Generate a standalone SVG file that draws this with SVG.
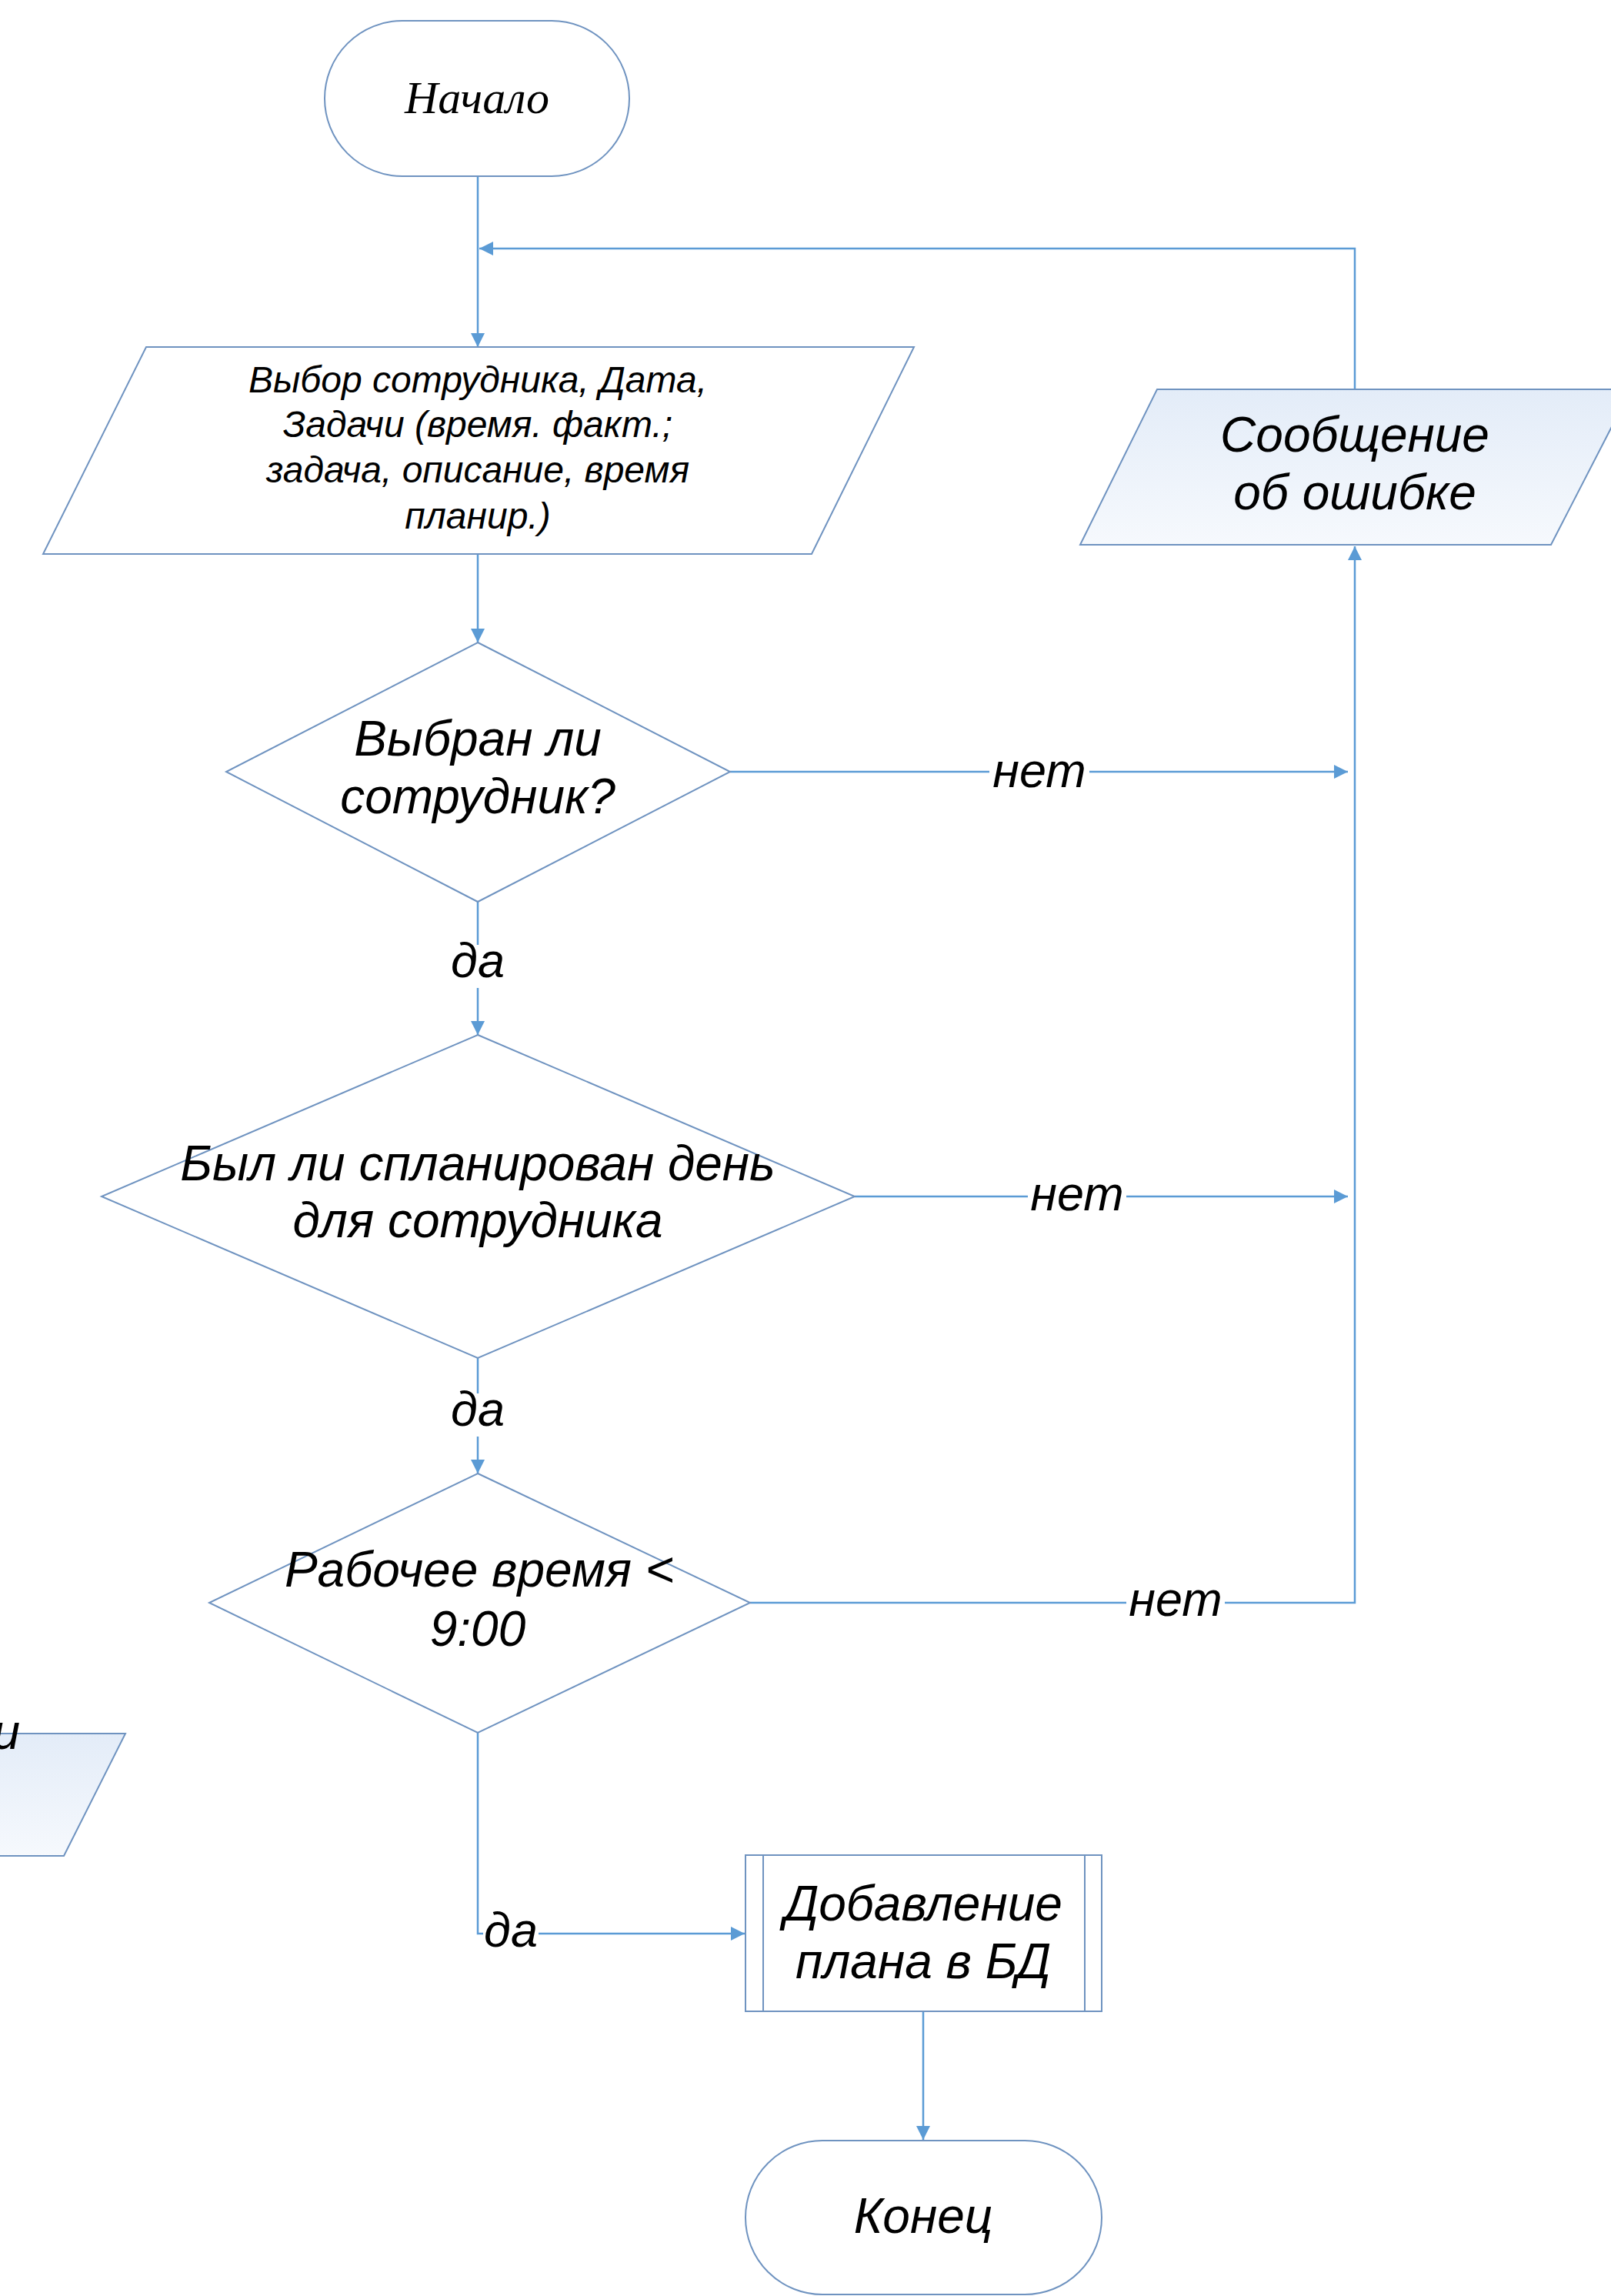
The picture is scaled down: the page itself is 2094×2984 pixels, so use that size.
<svg xmlns="http://www.w3.org/2000/svg" width="2094" height="2984" viewBox="0 0 2094 2984">
  <style>
    .node { fill: #ffffff; stroke: #6f93c0; stroke-width: 2; }
    .io { fill: url(#ioFill); stroke: #6f93c0; stroke-width: 2; }
    .conn { fill: none; stroke: #5b9bd5; stroke-width: 2.5; }
    .t { font-family: "Liberation Sans", Arial, sans-serif; font-style: italic; fill: #000; text-anchor: middle; }
    .serif { font-family: "Liberation Serif", "Times New Roman", serif; font-style: italic; fill: #000; text-anchor: middle; }
    .big { font-size: 64px; }
    .small { font-size: 48px; }
    .lbl { font-size: 63px; }
  </style>
  <defs>
    <linearGradient id="ioFill" x1="0" y1="0" x2="0" y2="1">
      <stop offset="0" stop-color="#e3ecf8"/>
      <stop offset="1" stop-color="#f6f9fd"/>
    </linearGradient>
    <marker id="arrow" markerUnits="userSpaceOnUse" markerWidth="20" markerHeight="18" refX="18" refY="9" orient="auto">
      <path d="M0,0 L18,9 L0,18 Z" fill="#5b9bd5"/>
    </marker>
  </defs>

  <rect width="2094" height="2984" fill="#ffffff"/>

  <!-- connectors -->
  <g id="connectors">
    <line class="conn" x1="621" y1="229" x2="621" y2="451" marker-end="url(#arrow)"/>
    <polyline class="conn" points="1761,506 1761,323 623,323" marker-end="url(#arrow)"/>
    <line class="conn" x1="621" y1="720" x2="621" y2="835" marker-end="url(#arrow)"/>
    <!-- decision 1: no -->
    <line class="conn" x1="949" y1="1003" x2="1286" y2="1003"/>
    <line class="conn" x1="1416" y1="1003" x2="1752" y2="1003" marker-end="url(#arrow)"/>
    <!-- decision 1: yes -->
    <line class="conn" x1="621" y1="1172" x2="621" y2="1228"/>
    <line class="conn" x1="621" y1="1284" x2="621" y2="1345" marker-end="url(#arrow)"/>
    <!-- decision 2: no -->
    <line class="conn" x1="1111" y1="1555" x2="1336" y2="1555"/>
    <line class="conn" x1="1464" y1="1555" x2="1752" y2="1555" marker-end="url(#arrow)"/>
    <!-- decision 2: yes -->
    <line class="conn" x1="621" y1="1765" x2="621" y2="1811"/>
    <line class="conn" x1="621" y1="1867" x2="621" y2="1915" marker-end="url(#arrow)"/>
    <!-- decision 3: no -->
    <line class="conn" x1="975" y1="2083" x2="1464" y2="2083"/>
    <polyline class="conn" points="1592,2083 1761,2083 1761,710" marker-end="url(#arrow)"/>
    <!-- decision 3: yes -->
    <polyline class="conn" points="621,2252 621,2513 628,2513"/>
    <line class="conn" x1="700" y1="2513" x2="968" y2="2513" marker-end="url(#arrow)"/>
    <line class="conn" x1="1200" y1="2614" x2="1200" y2="2781" marker-end="url(#arrow)"/>
  </g>

  <!-- connector labels -->
  <g id="labels">
    <text class="t lbl" x="1351" y="1023">нет</text>
    <text class="t lbl" x="1400" y="1573">нет</text>
    <text class="t lbl" x="1528" y="2100">нет</text>
    <text class="t lbl" x="621" y="1270">да</text>
    <text class="t lbl" x="621" y="1853">да</text>
    <text class="t lbl" x="664" y="2530">да</text>
  </g>

  <g id="start">
    <rect class="node" x="422" y="27" width="396" height="202" rx="101" ry="101"/>
    <text class="serif" font-size="60" x="620" y="147">Начало</text>
  </g>

  <g id="input">
    <polygon class="node" points="190,451 1188,451 1055,720 56,720"/>
    <text class="t small" x="621" y="510">Выбор сотрудника, Дата,</text>
    <text class="t small" x="621" y="568">Задачи (время. факт.;</text>
    <text class="t small" x="621" y="627">задача, описание, время</text>
    <text class="t small" x="621" y="687">планир.)</text>
  </g>

  <g id="error">
    <polygon class="io" points="1504,506 2120,506 2016,708 1404,708"/>
    <text class="t big" x="1761" y="587">Сообщение</text>
    <text class="t big" x="1761" y="662">об ошибке</text>
  </g>

  <g id="decision1">
    <polygon class="node" points="621,835 949,1003 621,1172 294,1003"/>
    <text class="t big" x="621" y="982">Выбран ли</text>
    <text class="t big" x="621" y="1057">сотрудник?</text>
  </g>

  <g id="decision2">
    <polygon class="node" points="621,1345 1111,1555 621,1765 132,1555"/>
    <text class="t big" x="621" y="1534">Был ли спланирован день</text>
    <text class="t big" x="621" y="1608">для сотрудника</text>
  </g>

  <g id="decision3">
    <polygon class="node" points="621,1915 975,2083 621,2252 272,2083"/>
    <text class="t big" x="623" y="2062">Рабочее время &lt;</text>
    <text class="t big" x="621" y="2139">9:00</text>
  </g>

  <g id="side-output">
    <polygon class="io" points="-400,2253 163,2253 83,2412 -480,2412"/>
    <text class="t big" x="26" y="2273" text-anchor="end" style="text-anchor:end">и</text>
  </g>

  <g id="process">
    <rect class="node" x="969" y="2411" width="463" height="203"/>
    <line class="node" x1="992" y1="2411" x2="992" y2="2614"/>
    <line class="node" x1="1410" y1="2411" x2="1410" y2="2614"/>
    <text class="t big" x="1200" y="2496">Добавление</text>
    <text class="t big" x="1200" y="2571">плана в БД</text>
  </g>

  <g id="end">
    <rect class="node" x="969" y="2782" width="463" height="200" rx="100" ry="100"/>
    <text class="t big" x="1200" y="2902">Конец</text>
  </g>
</svg>
